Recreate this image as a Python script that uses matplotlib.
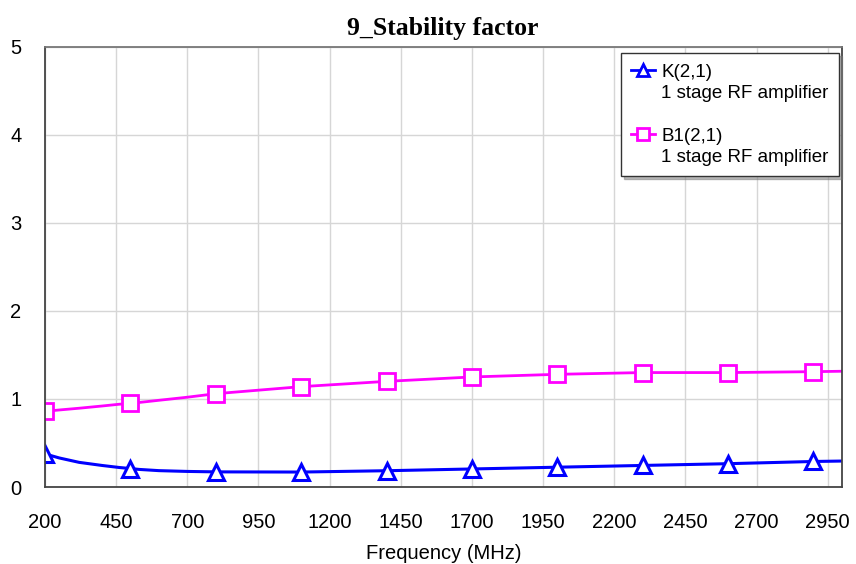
import matplotlib

matplotlib.use("Agg")
import matplotlib.pyplot as plt
import numpy as np
from matplotlib.lines import Line2D

# frequency points (MHz)
freq = [200, 250, 320, 400, 460, 500, 530, 600, 700, 800, 1100, 1400, 1700, 2000, 2300, 2600, 2900, 3000]
k_vals = [0.376, 0.33, 0.28, 0.245, 0.222, 0.21, 0.20, 0.186, 0.177, 0.172, 0.17, 0.185, 0.205, 0.225,
          0.245, 0.265, 0.29, 0.295]
b1_vals = [0.86, 0.875, 0.895, 0.92, 0.94, 0.95, 0.96, 0.985, 1.02, 1.06, 1.14, 1.20, 1.25, 1.28,
           1.30, 1.30, 1.31, 1.315]
marker_freq = [200, 500, 800, 1100, 1400, 1700, 2000, 2300, 2600, 2900]

x_ticks = list(range(200, 3000, 250))
y_ticks = [0, 1, 2, 3, 4, 5]

blue = "#0000FF"
magenta = "#FF00FF"
font = "Liberation Sans"

fig = plt.figure(figsize=(8.56, 5.64), dpi=100)
ax = fig.add_axes([0.0526, 0.1365, 0.931, 0.7805])

freq_a = np.array(freq)
marks = [i for i, f in enumerate(freq) if f in marker_freq]

ax.plot(freq_a, k_vals, color=blue, lw=2.2, marker="^", markevery=marks,
        markersize=11, markerfacecolor="white", markeredgecolor=blue, markeredgewidth=2.2)
ax.plot(freq_a, b1_vals, color=magenta, lw=2.0, marker="s", markevery=marks,
        markersize=11, markerfacecolor="white", markeredgecolor=magenta, markeredgewidth=2.0)

ax.set_xlim(200, 3000)
ax.set_ylim(0, 5)
ax.set_xticks(x_ticks)
ax.set_yticks(y_ticks)
ax.set_xticklabels([str(t) for t in x_ticks], fontsize=14.5, family=font)
ax.set_yticklabels([str(t) for t in y_ticks], fontsize=14.5, family=font)
ax.tick_params(axis="x", length=0, pad=19)
ax.tick_params(axis="y", length=0, pad=17)
ax.grid(True, color="#d6d6d6", lw=1.0)
ax.set_axisbelow(True)
for side in ["left", "bottom", "right"]:
    ax.spines[side].set_color("#444444")
    ax.spines[side].set_linewidth(1.3)
ax.spines["top"].set_color("#777777")
ax.spines["top"].set_linewidth(1.3)

ax.set_xlabel("Frequency (MHz)", fontsize=14.5, family=font, labelpad=8)
fig.suptitle("9_Stability factor", x=0.517, y=0.97, fontsize=18.5,
             family="Liberation Serif", fontweight="bold")

empty = Line2D([], [], linestyle="none")
handles = [
    Line2D([], [], color=blue, lw=2.0, marker="^", markersize=9,
           markerfacecolor="white", markeredgecolor=blue, markeredgewidth=2.0),
    empty,
    empty,
    Line2D([], [], color=magenta, lw=2.0, marker="s", markersize=9,
           markerfacecolor="white", markeredgecolor=magenta, markeredgewidth=2.0),
    empty,
]
labels = ["K(2,1)", "1 stage RF amplifier", " ", "B1(2,1)", "1 stage RF amplifier"]
leg = ax.legend(handles, labels, loc="upper right", bbox_to_anchor=(0.9965, 0.985),
                prop={"family": font, "size": 13.5}, handlelength=1.25, handletextpad=0.35,
                labelspacing=0.22, borderpad=0.55, borderaxespad=0.0,
                fancybox=False, shadow={"color": "#777777"}, framealpha=1)
leg.get_frame().set_edgecolor("#333333")
leg.get_frame().set_linewidth(1.0)

fig.savefig("out.png", dpi=100)
